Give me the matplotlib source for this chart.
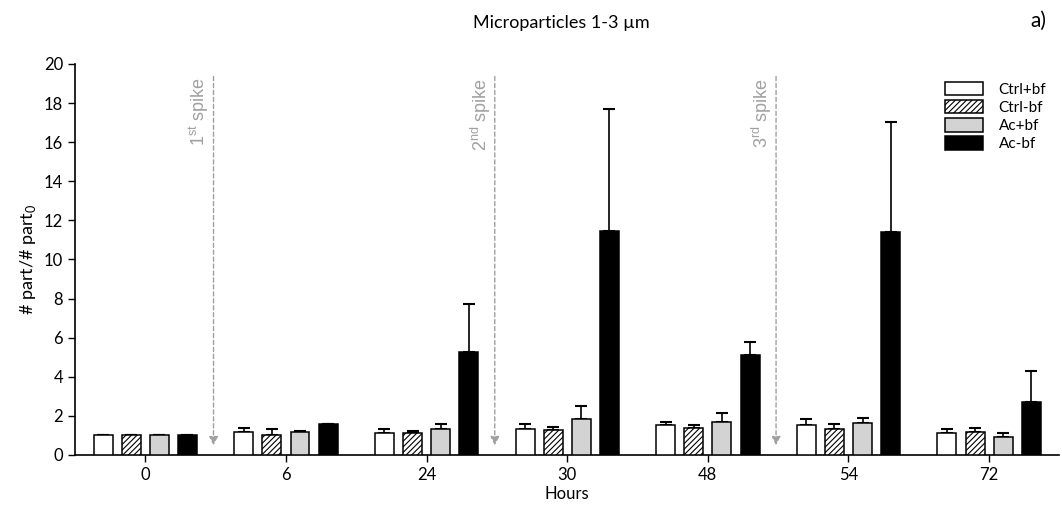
import numpy as np
import matplotlib
matplotlib.use('Agg')
import matplotlib.pyplot as plt

hours = ['0', '6', '24', '30', '48', '54', '72']
groups = ['Ctrl+bf', 'Ctrl-bf', 'Ac+bf', 'Ac-bf']

ctrl_p = [1.0, 1.19, 1.11, 1.35, 1.52, 1.52, 1.14]
ctrl_m = [1.0, 1.0, 1.13, 1.26, 1.38, 1.35, 1.19]
ac_p = [1.0, 1.19, 1.31, 1.82, 1.69, 1.65, 0.90]
ac_m = [1.0, 1.59, 5.28, 11.46, 5.10, 11.42, 2.70]

# upper error (top of whisker minus bar)
ctrl_p_err = [0.0, 0.21, 0.20, 0.24, 0.18, 0.30, 0.21]
ctrl_m_err = [0.0, 0.31, 0.11, 0.17, 0.17, 0.24, 0.19]
ac_p_err = [0.0, 0.03, 0.29, 0.67, 0.44, 0.26, 0.21]
ac_m_err = [0.0, 0.01, 2.44, 6.22, 0.70, 5.63, 1.60]

spike_pos = [0.485, 2.485, 4.485]
spike_labels = [('1', 'st'), ('2', 'nd'), ('3', 'rd')]

plt.rcParams['font.family'] = ['Lato', 'DejaVu Sans']
plt.rcParams['hatch.linewidth'] = 0.8

fig = plt.figure(figsize=(10.62, 5.11), dpi=100)
ax = fig.add_axes([0.0706, 0.1096, 0.927, 0.7652])

x = np.arange(len(hours))
w = 0.135
step = 0.2
series = [
    (ctrl_p, ctrl_p_err, dict(facecolor='white', hatch=None)),
    (ctrl_m, ctrl_m_err, dict(facecolor='white', hatch='//////')),
    (ac_p, ac_p_err, dict(facecolor='#d3d3d3', hatch=None)),
    (ac_m, ac_m_err, dict(facecolor='black', hatch=None)),
]
for i, (vals, errs, style) in enumerate(series):
    pos = x + (i - 1.5) * step
    ax.bar(pos, vals, width=w, edgecolor='black', linewidth=1.1,
           label=groups[i], zorder=3, **style)
    ax.errorbar(pos, vals, yerr=[np.zeros(len(vals)), errs], fmt='none',
                ecolor='black', elinewidth=1.2, capsize=4, capthick=1.5, zorder=2)

for sx, (num, sup) in zip(spike_pos, spike_labels):
    ax.annotate('', xy=(sx, 0.35), xytext=(sx, 19.5),
                arrowprops=dict(arrowstyle='-|>', color='#a0a0a0', lw=1,
                                linestyle=(0, (3, 2)), mutation_scale=13))
    ax.text(sx - 0.1, 19.3, r'%s$^{\mathregular{%s}}$ spike' % (num, sup),
            rotation=90, ha='center', va='top', color='#a0a0a0',
            fontsize=13, family=['Liberation Sans'])

ax.set_xlim(-0.5, 6.5)
ax.set_ylim(0, 20)
ax.set_yticks(np.arange(0, 21, 2))
ax.set_xticks(x)
ax.set_xticklabels(hours)
ax.tick_params(axis='both', direction='out', length=5, width=1, labelsize=12)
for s in ['top', 'right']:
    ax.spines[s].set_visible(False)
for s in ['left', 'bottom']:
    ax.spines[s].set_linewidth(1.2)

ax.set_xlabel('Hours', fontsize=12, labelpad=2)
ax.set_ylabel(r'# part/# part$_{\mathregular{0}}$', fontsize=13)

leg = ax.legend(loc='upper left', bbox_to_anchor=(0.87, 0.99), frameon=False,
                fontsize=11, handlelength=2.5, handleheight=1.0,
                labelspacing=0.2, handletextpad=1.0)

fig.text(0.529, 0.955, 'Microparticles 1-3 µm', ha='center', va='center', fontsize=13)
fig.text(0.978, 0.96, 'a)', ha='center', va='center', fontsize=15)

fig.savefig('out.png', dpi=100)
